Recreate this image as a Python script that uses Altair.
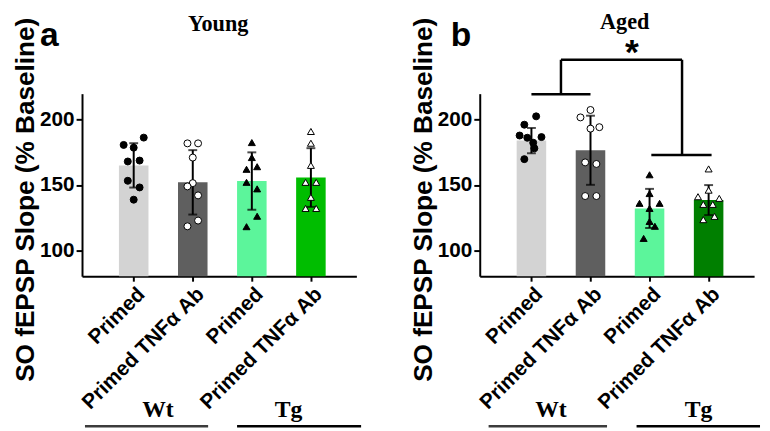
import json
import altair as alt
import pandas as pd

# ---------------- data ----------------
labels = ["Primed", "Primed TNFα Ab", "Primed", "Primed TNFα Ab"]
positions = [0, 1, 2, 3]
shapes = ["circle", "circle", "triangle-up", "triangle-up"]
fills = ["black", "white", "black", "white"]

young_means = [165.0, 152.0, 153.0, 155.7]
young_sd = [17.0, 24.7, 22.0, 22.5]
aged_means = [184.0, 176.6, 132.0, 138.4]
aged_sd = [9.7, 26.5, 15.0, 11.5]

young_wt_primed = [180.7, 186.3, 178.6, 168.0, 168.7, 153.2, 148.1, 138.7]
young_wt_tnf = [181.9, 181.9, 171.0, 151.4, 148.9, 142.0, 122.7, 118.3]
young_tg_primed = [182.5, 171.0, 164.0, 162.0, 152.0, 147.0, 126.0, 118.0]
young_tg_tnf = [191.0, 182.0, 165.0, 152.0, 152.0, 140.5, 132.0, 132.0]

aged_wt_primed = [202.6, 196.2, 187.9, 186.2, 186.7, 182.4, 178.1, 169.8]
aged_wt_tnf = [207.5, 201.8, 193.2, 194.3, 167.3, 166.1, 141.5, 141.5]
aged_tg_primed = [157.8, 143.4, 135.9, 135.9, 132.0, 122.0, 118.3, 109.0]
aged_tg_tnf = [162.3, 146.0, 141.0, 139.7, 135.1, 135.1, 125.9, 123.4]

# horizontal scatter of the dots around each bar (bar-step units)
young_jitter = [
    [-0.17, 0.17, 0, -0.1, 0.1, -0.1, 0.1, 0],
    [-0.09, 0.09, 0, 0, -0.09, 0.09, 0.09, -0.09],
    [0, 0, 0.09, -0.09, -0.09, 0.09, 0.09, -0.09],
    [0, 0, 0, -0.09, 0.09, 0, -0.09, 0.09],
]
aged_jitter = [
    [0.08, -0.12, -0.2, -0.07, 0.17, 0.03, 0.05, -0.12],
    [0, -0.17, 0, 0.15, -0.09, 0.1, -0.09, 0.1],
    [0, 0, -0.17, 0.17, 0, 0, 0.09, -0.1],
    [0, 0, -0.18, 0.18, -0.09, 0.07, 0.1, -0.09],
]

young_colors = ["#d3d3d3", "#5f5f5f", "#5cf59b", "#00bd00"]
aged_colors = ["#d3d3d3", "#5f5f5f", "#5cf59b", "#007f00"]

group_names = ["Wt", "Tg"]
group_line_colors = ["#3c3c3c", "#000000"]
young_group_start = [-0.825, 1.75]
young_group_end = [1.26, 3.85]
young_group_center = [0.41, 2.62]
aged_group_start = [-0.725, 1.78]
aged_group_end = [1.28, 3.87]
aged_group_center = [0.33, 2.83]

# significance bracket (aged panel), data units
br_x = [0.0, 2.03, 0.5, 2.55, 0.5]
br_x2 = [1.0, 3.05, 0.5, 2.55, 2.55]
br_y = [219.5, 173.0, 219.5, 173.0, 246.0]
br_y2 = [219.5, 173.0, 246.0, 246.0, 246.0]

SANS = "Liberation Sans"
SERIF = "Liberation Serif"

xscale = alt.Scale(domain=[-0.875, 3.77], nice=False, zero=False)
yscale = alt.Scale(domain=[80, 220], nice=False, zero=False)

label_expr = json.dumps(labels, ensure_ascii=False) + "[datum.value]"

xaxis = alt.Axis(
    values=positions, labelExpr=label_expr, labelAngle=-45, labelFont=SANS,
    labelFontSize=21, labelFontWeight="bold", labelColor="black",
    labelOverlap=False, labelFlush=False, labelBound=False,
    domainColor="black", domainWidth=2, tickColor="black", tickWidth=2,
    tickSize=5, grid=False, title=None, labelPadding=2,
)
yaxis = alt.Axis(
    values=[100, 150, 200], labelFont=SANS, labelFontSize=21,
    labelFontWeight="bold", labelColor="black", domainColor="black",
    domainWidth=2, tickColor="black", tickWidth=2, tickSize=6, labelPadding=2,
    labelOverlap=False, grid=False, title="SO fEPSP Slope (% Baseline)",
    titleFont=SANS, titleFontSize=26.5, titleFontWeight="bold",
    titleColor="black", titleX=-57, titleY=107, titleAlign="center",
    titleBaseline="middle", titleAngle=270,
)


def X(f):
    return alt.X(f, type="quantitative", scale=xscale, axis=xaxis)


def Y(f):
    return alt.Y(f, type="quantitative", scale=yscale, axis=yaxis)


def panel(means, sds, point_sets, jitter, colors, title, title_x, title_y,
          letter, letter_x, g_start, g_end, g_center, bracket=False):
    bars_df = pd.DataFrame({
        "pos": positions,
        "left": [p - 0.25 for p in positions],
        "right": [p + 0.25 for p in positions],
        "mean": means,
        "lo": [m - s for m, s in zip(means, sds)],
        "hi": [m + s for m, s in zip(means, sds)],
        "color": colors,
    })
    rows = []
    for i, vals in enumerate(point_sets):
        for v, j in zip(vals, jitter[i]):
            rows.append({"px": positions[i] + j, "value": v,
                         "shape": shapes[i], "fill": fills[i]})
    pts_df = pd.DataFrame(rows)

    base = alt.Chart(bars_df)
    bars = base.mark_bar().encode(
        x=X("left"), x2="right", y=Y("mean"), y2=alt.datum(80),
        color=alt.Color("color:N", scale=None),
    )
    err = base.mark_rule(color="black", strokeWidth=2).encode(
        x=X("pos"), y=Y("lo"), y2="hi")
    cap_lo = base.mark_tick(color="black", orient="horizontal", size=9,
                            thickness=2).encode(x=X("pos"), y=Y("lo"))
    cap_hi = base.mark_tick(color="black", orient="horizontal", size=9,
                            thickness=2).encode(x=X("pos"), y=Y("hi"))
    pts = alt.Chart(pts_df).mark_point(
        filled=True, size=50, stroke="black", strokeWidth=1, opacity=1
    ).encode(
        x=X("px"), y=Y("value"),
        shape=alt.Shape("shape:N", scale=None),
        fill=alt.Fill("fill:N", scale=None),
    )

    g_df = pd.DataFrame({"name": group_names, "start": g_start, "end": g_end,
                         "center": g_center, "lc": group_line_colors})
    g_lines = alt.Chart(g_df).mark_rule(strokeWidth=2.5).encode(
        x=X("start"), x2="end", y=alt.value(337),
        color=alt.Color("lc:N", scale=None))
    g_text = alt.Chart(g_df).mark_text(
        font=SERIF, fontSize=24, fontWeight="bold", color="black",
        baseline="alphabetic").encode(
        x=X("center"), y=alt.value(328), text="name:N")

    t_df = pd.DataFrame({"t": [title], "x": [title_x]})
    t_text = alt.Chart(t_df).mark_text(
        font=SERIF, fontSize=22.5, fontWeight="bold", color="black",
        baseline="alphabetic").encode(x=X("x"), y=alt.value(title_y), text="t:N")

    l_df = pd.DataFrame({"t": [letter]})
    l_text = alt.Chart(l_df).mark_text(
        font=SANS, fontSize=34, fontWeight="bold", color="black",
        baseline="alphabetic").encode(
        x=alt.value(letter_x), y=alt.value(-48), text="t:N")

    layers = [bars, err, cap_lo, cap_hi, pts, g_lines, g_text, t_text, l_text]

    if bracket:
        b_df = pd.DataFrame({"x": br_x, "x2": br_x2, "y": br_y, "y2": br_y2})
        b_rules = alt.Chart(b_df).mark_rule(color="black", strokeWidth=2.5).encode(
            x=X("x"), x2="x2", y=Y("y"), y2="y2")
        s_df = pd.DataFrame({"t": ["*"], "x": [1.7]})
        star = alt.Chart(s_df).mark_text(
            font=SANS, fontSize=36, fontWeight="bold", color="black",
            baseline="top").encode(x=X("x"), y=alt.value(-58), text="t:N")
        layers += [b_rules, star]

    return alt.layer(*layers).properties(width=278, height=185)


young = panel(young_means, young_sd,
              [young_wt_primed, young_wt_tnf, young_tg_primed, young_tg_tnf],
              young_jitter, young_colors, "Young", 1.43, -63, "a", -33,
              young_group_start, young_group_end, young_group_center)
aged = panel(aged_means, aged_sd,
             [aged_wt_primed, aged_wt_tnf, aged_tg_primed, aged_tg_tnf],
             aged_jitter, aged_colors, "Aged", 1.58, -65.5, "b", -19,
             aged_group_start, aged_group_end, aged_group_center, bracket=True)

chart = alt.hconcat(young, aged, spacing=125, bounds="flush").properties(
    padding={"left": 4, "top": 0, "right": 0, "bottom": 0}
).configure_view(stroke=None)

chart.save("out.html", embed_options={"renderer": "svg", "actions": False})
